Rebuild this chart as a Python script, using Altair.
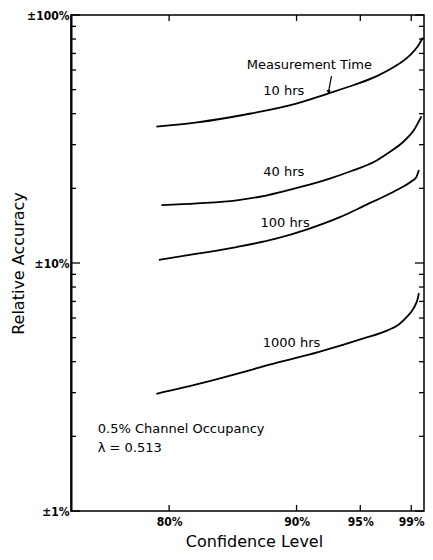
import altair as alt
import pandas as pd

# ---- data ----
conf_10 = [79.0, 82.2, 86.0, 89.9, 92.4, 94.5, 96.3, 97.6, 98.8, 99.5, 99.9]
acc_10 = [35.5, 36.9, 39.7, 43.8, 48.1, 52.2, 56.7, 61.5, 68.1, 74.6, 81.0]

conf_40 = [79.4, 82.2, 85.3, 87.6, 90.4, 92.6, 94.3, 96.1, 97.1, 98.4, 99.2, 99.8]
acc_40 = [17.1, 17.4, 17.9, 18.7, 20.3, 21.9, 23.5, 25.6, 27.6, 30.9, 34.3, 39.0]

conf_100 = [79.2, 82.2, 85.3, 88.3, 90.9, 93.4, 95.5, 97.1, 98.2, 99.0, 99.4, 99.6]
acc_100 = [10.3, 10.9, 11.6, 12.5, 13.7, 15.3, 17.2, 18.8, 20.1, 21.3, 22.2, 23.7]

conf_1000 = [79.0, 82.7, 85.3, 87.8, 91.7, 95.5, 97.1, 98.0, 98.6, 99.2, 99.5, 99.6]
acc_1000 = [2.97, 3.29, 3.57, 3.88, 4.37, 5.01, 5.34, 5.64, 6.02, 6.59, 7.16, 7.56]

label_text = ["Measurement Time", "10 hrs", "40 hrs", "100 hrs", "1000 hrs"]
label_conf = [91.0, 89.0, 89.0, 89.1, 89.6]
label_acc = [62.7, 49.4, 23.3, 14.5, 4.74]

note_text = ["0.5% Channel Occupancy", "λ = 0.513"]
note_conf = [74.4, 74.4]
note_acc = [2.14, 1.80]

arrow_conf = [92.74, 92.51]
arrow_acc = [56.7, 48.97]

x_ticks = [80, 90, 95, 99]
y_major = [1, 10, 100]
y_minor = [2, 3, 4, 5, 6, 7, 8, 9, 20, 30, 40, 50, 60, 70, 80, 90]

# ---- tables ----
rows = []
for name, cs, accs in [("10 hrs", conf_10, acc_10), ("40 hrs", conf_40, acc_40),
                       ("100 hrs", conf_100, acc_100), ("1000 hrs", conf_1000, acc_1000)]:
    for c, a in zip(cs, accs):
        rows.append({"series": name, "conf": c, "acc": a})
curves = pd.DataFrame(rows)
labels = pd.DataFrame({"t": label_text, "conf": label_conf, "acc": label_acc})
notes = pd.DataFrame({"t": note_text, "conf": note_conf, "acc": note_acc})
arrow = pd.DataFrame({"conf": [arrow_conf[0]], "acc": [arrow_acc[0]],
                      "conf2": [arrow_conf[1]], "acc2": [arrow_acc[1]]})
arrow_head = pd.DataFrame({"conf": [arrow_conf[1]], "acc": [arrow_acc[1]]})
xt = pd.DataFrame({"conf": x_ticks})
ymaj = pd.DataFrame({"acc": y_major})
ymin = pd.DataFrame({"acc": y_minor})

W, H = 353, 496
xscale = alt.Scale(domain=[72.3, 100], nice=False, zero=False)
yscale = alt.Scale(type="log", domain=[1, 100], nice=False)

FONT = "DejaVu Sans"
TICKFONT = "DejaVu Sans Condensed"

xaxis = alt.Axis(values=x_ticks, labelExpr="datum.value + '%'", grid=False, ticks=False,
                 tickSize=0, domain=False, labelPadding=5, labelFont=TICKFONT,
                 labelFontSize=12, labelFontWeight="bold", labelColor="black",
                 title="Confidence Level", titleFont=FONT, titleFontSize=16,
                 titleFontWeight="normal", titleColor="black", titleX=183, titleY=30,
                 titleBaseline="middle", titleAlign="center")
yaxis = alt.Axis(values=y_major, labelExpr="'±' + datum.value + '%'", grid=False,
                 ticks=False, tickSize=0, domain=True, domainColor="black", domainWidth=2,
                 labelPadding=2, labelFont=TICKFONT, labelFontSize=12,
                 labelFontWeight="bold", labelColor="black",
                 title="Relative Accuracy", titleFont=FONT, titleFontSize=16,
                 titleFontWeight="normal", titleColor="black", titleX=-53, titleY=248,
                 titleBaseline="middle", titleAlign="center", titleAngle=-90)

X = lambda f: alt.X(f, scale=xscale, axis=xaxis, title="Confidence Level")
Y = lambda f: alt.Y(f, scale=yscale, axis=yaxis, title="Relative Accuracy")

lines = alt.Chart(curves).mark_line(color="black", strokeWidth=1.8, interpolate="monotone").encode(
    x=X("conf:Q"), y=Y("acc:Q"), detail="series:N",
)

lab = alt.Chart(labels).mark_text(font=FONT, fontSize=13, color="black", align="center",
                                  baseline="middle").encode(
    x=X("conf:Q"), y=Y("acc:Q"), text="t:N",
)

note = alt.Chart(notes).mark_text(font=FONT, fontSize=13, color="black", align="left",
                                  baseline="middle").encode(
    x=X("conf:Q"), y=Y("acc:Q"), text="t:N",
)

arr = alt.Chart(arrow).mark_rule(color="black", strokeWidth=1.2).encode(
    x=X("conf:Q"), y=Y("acc:Q"), x2="conf2:Q", y2="acc2:Q",
)
head = alt.Chart(arrow_head).mark_point(shape="triangle-down", filled=True, color="black",
                                        size=18, opacity=1).encode(
    x=X("conf:Q"), y=Y("acc:Q"),
)

tick_style = dict(color="black", strokeWidth=1.3)
xt_bot = alt.Chart(xt).mark_rule(**tick_style).encode(
    x=X("conf:Q"), y=alt.value(H), y2=alt.value(H - 6))
xt_top = alt.Chart(xt).mark_rule(**tick_style).encode(
    x=X("conf:Q"), y=alt.value(0), y2=alt.value(6))
ymaj_l = alt.Chart(ymaj).mark_rule(**tick_style).encode(
    y=Y("acc:Q"), x=alt.value(0), x2=alt.value(9))
ymaj_r = alt.Chart(ymaj).mark_rule(**tick_style).encode(
    y=Y("acc:Q"), x=alt.value(W), x2=alt.value(W - 9))
ymin_l = alt.Chart(ymin).mark_rule(**tick_style).encode(
    y=Y("acc:Q"), x=alt.value(0), x2=alt.value(5))
ymin_r = alt.Chart(ymin).mark_rule(**tick_style).encode(
    y=Y("acc:Q"), x=alt.value(W), x2=alt.value(W - 5))

chart = alt.layer(lines, lab, note, arr, head, xt_bot, xt_top, ymaj_l, ymaj_r, ymin_l, ymin_r).properties(
    width=W, height=H,
    autosize=alt.AutoSizeParams(type="none"),
    padding={"left": 63, "top": 7, "right": 1, "bottom": 41},
    background="white",
).configure_view(stroke="black", strokeWidth=1.5)

chart.save("out.html", embed_options={"renderer": "svg", "actions": False})
